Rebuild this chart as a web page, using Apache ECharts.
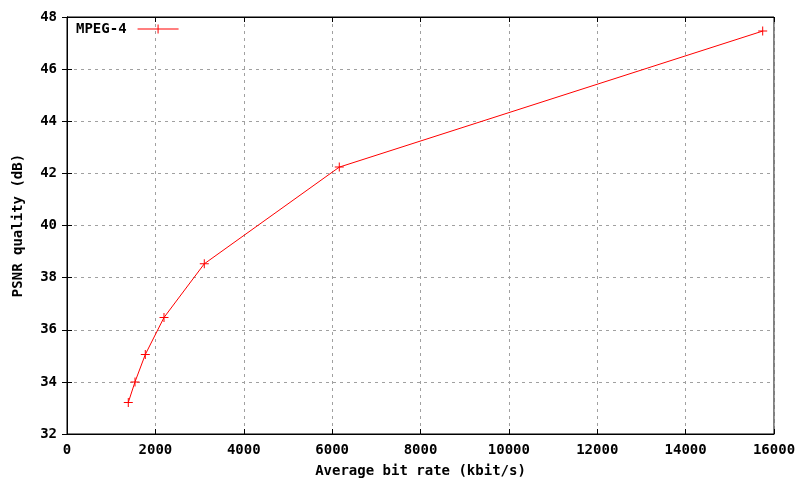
<!DOCTYPE html>
<html>
<head>
<meta charset="utf-8">
<script src="https://cdn.jsdelivr.net/npm/echarts@6/dist/echarts.min.js"></script>
<style>
html,body{margin:0;padding:0;background:#fff;}
#chart{width:800px;height:480px;}
</style>
</head>
<body>
<div id="chart"></div>
<script>
var seriesName = 'MPEG-4';
var bitRates = [1387, 1539, 1772, 2195, 3107, 6162, 15744];
var psnr = [33.21, 34.00, 35.05, 36.47, 38.53, 42.24, 47.46];
var xTicks = {min: 0, max: 16000, interval: 2000};
var yTicks = {min: 32, max: 48, interval: 2};
var xTitle = 'Average bit rate (kbit/s)';
var yTitle = 'PSNR quality (dB)';

var FONT = 'DejaVu Sans Mono';
var WEIGHT = 'bold';
var plus = 'path://M4,0H5V4H9V5H5V9H4V5H0V4H4Z';
var legendIcon = 'path://M0,4H41V5H0Z M20,0H21V9H20Z';

var points = bitRates.map(function (b, i) { return [b, psnr[i]]; });

var chart = echarts.init(document.getElementById('chart'), null, {renderer: 'canvas'});
var tickStyle = {show: true, inside: true, length: 5, lineStyle: {color: '#000', width: 1}};
var gridLine = {show: true, lineStyle: {color: '#a0a0a0', type: [3, 4], width: 1}};
var txt = {fontFamily: FONT, fontSize: 14, fontWeight: WEIGHT, color: '#000'};
chart.setOption({
  animation: false,
  backgroundColor: '#fff',
  grid: {left: 67, right: 26, top: 17, bottom: 46, show: true, borderColor: '#000', borderWidth: 1,
         backgroundColor: 'transparent', containLabel: false, outerBoundsMode: 'none'},
  legend: {
    show: true, left: 76, top: 22, align: 'right', padding: 0,
    itemWidth: 41, itemHeight: 9,
    textStyle: Object.assign({}, txt, {padding: [0, 6, 0, 0]}),
    data: [{name: seriesName, icon: legendIcon, itemStyle: {color: '#ff0000'}}]
  },
  xAxis: [{
    type: 'value', min: xTicks.min, max: xTicks.max, interval: xTicks.interval,
    name: xTitle, nameLocation: 'middle', nameGap: 30,
    nameTextStyle: txt,
    axisLine: {show: true, lineStyle: {color: '#000', width: 1}},
    axisTick: tickStyle,
    axisLabel: Object.assign({}, txt, {margin: 9, formatter: function (v) { return String(v); }}),
    splitLine: gridLine
  }, {
    type: 'value', position: 'top', min: xTicks.min, max: xTicks.max, interval: xTicks.interval,
    axisLine: {show: true, lineStyle: {color: '#000', width: 1}},
    axisTick: tickStyle, axisLabel: {show: false}, splitLine: {show: false}
  }],
  yAxis: [{
    type: 'value', min: yTicks.min, max: yTicks.max, interval: yTicks.interval,
    name: yTitle, nameLocation: 'middle', nameGap: 42, nameRotate: 90,
    nameTextStyle: txt,
    axisLine: {show: true, lineStyle: {color: '#000', width: 1}},
    axisTick: tickStyle,
    axisLabel: Object.assign({}, txt, {margin: 10, formatter: function (v) { return String(v); }}),
    splitLine: gridLine
  }, {
    type: 'value', position: 'right', min: yTicks.min, max: yTicks.max, interval: yTicks.interval,
    axisLine: {show: true, lineStyle: {color: '#000', width: 1}},
    axisTick: tickStyle, axisLabel: {show: false}, splitLine: {show: false}
  }],
  series: [{
    name: seriesName, type: 'line', data: points,
    xAxisIndex: 0, yAxisIndex: 0,
    symbol: plus, symbolSize: 9, showAllSymbol: true,
    lineStyle: {color: '#ff0000', width: 1},
    itemStyle: {color: '#ff0000'},
    emphasis: {disabled: true},
    z: 5
  }]
});
</script>
</body>
</html>
